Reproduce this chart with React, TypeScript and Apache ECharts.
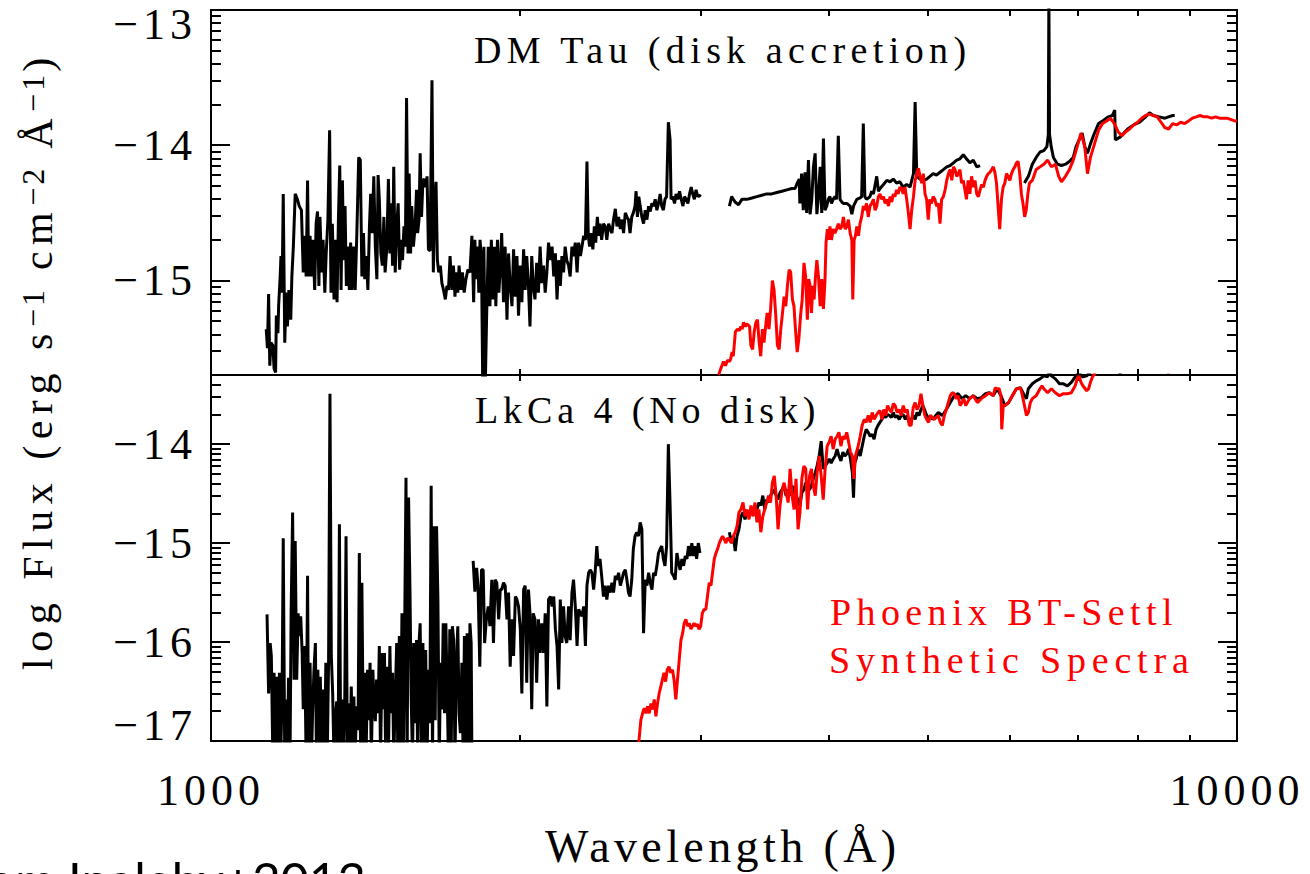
import React, { useEffect, useRef } from 'react';
import * as echarts from 'echarts';

type Pt = [number, number];

// ---------- DM Tau (accreting disk) : observed spectrum, log flux vs wavelength (Å) ----------
const dmTauFuv: Pt[] = [
  [1132,-15.36],[1135,-15.50],[1138,-15.10],[1141,-15.63],[1144,-15.46],[1149,-15.48],[1152,-15.65],[1156,-15.68],[1158,-15.26],[1162,-15.39],
  [1164,-15.18],[1168,-14.97],[1170,-14.82],[1173,-15.09],[1176,-14.36],[1180,-15.46],[1184,-15.09],[1187,-15.34],[1191,-15.07],[1196,-15.29],
  [1199,-14.97],[1203,-14.75],[1208,-14.36],[1214,-14.40],[1219,-14.45],[1225,-14.48],[1230,-14.94],[1234,-14.67],[1238,-14.97],[1242,-14.26],
  [1245,-14.97],[1249,-14.67],[1253,-14.97],[1257,-14.70],[1262,-15.07],[1266,-14.58],[1270,-14.49],[1274,-15.04],[1277,-14.53],[1282,-14.94],
  [1286,-14.70],[1291,-15.09],[1295,-14.80],[1300,-14.55],[1305,-13.89],[1309,-15.09],[1313,-14.58],[1318,-15.14],[1322,-14.70],[1327,-15.16],
  [1331,-14.55],[1335,-14.15],[1339,-15.07],[1343,-14.26],[1347,-14.85],[1351,-14.45],[1355,-15.04],[1359,-14.75],[1364,-15.07],[1368,-14.72],
  [1372,-15.07],[1377,-14.75],[1382,-15.07],[1387,-14.67],[1393,-14.09],[1398,-14.11],[1403,-14.97],[1408,-14.65],[1412,-14.99],[1417,-14.82],
  [1422,-15.07],[1427,-14.60],[1431,-14.36],[1436,-14.65],[1441,-14.23],[1446,-14.75],[1451,-14.99],[1455,-14.22],[1459,-14.40],[1464,-14.80],
  [1469,-14.89],[1474,-14.53],[1478,-14.94],[1484,-14.75],[1489,-14.25],[1494,-14.80],[1498,-14.43],[1503,-14.89],[1507,-14.16],[1512,-14.94],
  [1517,-14.60],[1522,-14.43],[1527,-14.92],[1533,-14.70],[1537,-14.85],[1542,-14.60],[1547,-14.75],[1551,-13.65],[1556,-14.80],[1560,-14.21],
  [1565,-14.80],[1569,-14.45],[1575,-14.75],[1581,-14.60],[1586,-14.33],[1590,-14.65],[1595,-14.55],[1599,-14.06],[1604,-14.53],[1609,-14.26],
  [1614,-14.25],[1619,-14.31],[1624,-14.23],[1629,-14.77],[1635,-14.78],[1642,-13.52],[1647,-14.94],[1652,-14.43],[1657,-14.27],[1662,-14.85],
  [1667,-14.94],[1673,-14.89],[1679,-15.02],[1685,-15.07],[1692,-15.14],[1698,-15.04],[1704,-15.07],[1710,-14.82],[1717,-15.07],[1723,-14.89],
  [1729,-15.12],[1734,-14.94],[1740,-15.09],[1745,-14.89],[1752,-15.07],[1758,-14.94],[1765,-15.09],[1772,-14.99],[1780,-14.92],[1788,-14.94],
  [1796,-14.67],[1803,-15.16],[1808,-14.70],[1813,-14.99],[1819,-14.75],[1824,-15.09],[1829,-14.70],[1835,-14.85],[1840,-15.75],[1845,-14.75],
  [1851,-15.75],[1856,-15.29],[1863,-14.75],[1870,-15.19],[1876,-14.70],[1883,-15.14],[1889,-14.75],[1895,-15.19],[1902,-14.70],[1908,-15.09],
  [1913,-14.94],[1920,-14.65],[1928,-15.16],[1935,-14.75],[1943,-15.29],[1950,-14.80],[1957,-15.04],[1965,-15.19],[1972,-14.77],[1980,-15.12],
  [1987,-14.82],[1994,-15.26],[2002,-14.89],[2009,-15.16],[2017,-14.77],[2024,-15.07],[2031,-14.82],[2039,-15.04],[2046,-15.34],[2054,-14.82],
  [2061,-15.04],[2069,-15.14],[2077,-14.87],[2085,-15.09],[2093,-14.75],[2101,-15.02],[2109,-14.89],[2117,-15.09],[2125,-14.94],[2133,-14.72],
  [2142,-14.85],[2150,-14.75],[2158,-14.97],[2166,-14.80],[2174,-15.14],[2182,-14.85],[2190,-15.04],[2198,-14.82],[2206,-14.94],[2214,-14.75],
  [2222,-14.85],[2231,-14.89],[2239,-14.97],[2248,-14.75],[2256,-14.82],[2265,-14.72],[2274,-14.94],[2282,-14.72],[2291,-14.82],[2299,-14.75],
  [2308,-14.67],[2317,-14.70],[2325,-14.12],[2332,-14.67],[2339,-14.75],[2346,-14.65],[2356,-14.77],[2364,-14.60],[2371,-14.72],[2380,-14.53],
  [2387,-14.67],[2394,-14.58],[2403,-14.70],[2413,-14.58],[2422,-14.60],[2431,-14.70],[2441,-14.58],[2450,-14.62],[2459,-14.65],[2468,-14.55],
  [2478,-14.47],[2487,-14.60],[2496,-14.53],[2506,-14.62],[2515,-14.55],[2524,-14.65],[2534,-14.50],[2543,-14.53],[2552,-14.55],[2561,-14.65],
  [2571,-14.53],[2580,-14.50],[2590,-14.45],[2596,-14.34],[2604,-14.53],[2612,-14.38],[2620,-14.45],[2630,-14.53],[2640,-14.58],[2650,-14.48],
  [2660,-14.55],[2670,-14.45],[2680,-14.49],[2690,-14.43],[2700,-14.45],[2710,-14.40],[2720,-14.48],[2730,-14.43],[2740,-14.36],[2750,-14.45],
  [2760,-14.48],[2770,-14.40],[2780,-14.38],[2791,-13.83],[2802,-13.96],[2808,-14.40],[2819,-14.38],[2830,-14.43],[2840,-14.36],[2851,-14.40],
  [2862,-14.34],[2873,-14.40],[2884,-14.45],[2894,-14.38],[2905,-14.40],[2916,-14.43],[2927,-14.36],[2938,-14.31],[2948,-14.36],[2959,-14.40],
  [2970,-14.33],[2981,-14.38],[2991,-14.37],[3002,-14.38],
];

const dmTauBlue: Pt[] = [
  [3201,-14.45],[3217,-14.38],[3242,-14.42],[3267,-14.44],[3292,-14.40],[3329,-14.40],[3367,-14.39],[3404,-14.38],[3442,-14.37],[3479,-14.36],
  [3520,-14.36],[3560,-14.35],[3601,-14.34],[3641,-14.33],[3682,-14.32],[3709,-14.32],[3727,-14.28],[3744,-14.25],[3749,-14.43],[3764,-14.21],
  [3778,-14.48],[3793,-14.20],[3807,-14.50],[3822,-14.11],[3836,-14.51],[3851,-14.40],[3865,-14.16],[3880,-14.06],[3895,-14.51],[3909,-14.38],
  [3924,-14.16],[3938,-14.50],[3953,-13.95],[3967,-14.48],[3982,-14.45],[3996,-14.40],[4011,-14.38],[4025,-14.43],[4040,-14.40],[4056,-14.38],
  [4071,-14.40],[4087,-13.93],[4103,-14.40],[4119,-14.42],[4134,-14.43],[4166,-14.43],[4197,-14.45],[4213,-14.51],[4229,-14.45],[4260,-14.40],
  [4291,-14.39],[4307,-14.38],[4323,-13.84],[4338,-14.38],[4354,-14.40],[4371,-14.39],[4388,-14.38],[4405,-14.34],[4422,-14.36],[4455,-14.23],
  [4472,-14.34],[4489,-14.32],[4523,-14.29],[4557,-14.26],[4591,-14.27],[4624,-14.25],[4658,-14.28],[4692,-14.27],[4728,-14.31],[4765,-14.29],
  [4801,-14.31],[4838,-14.21],[4856,-13.68],[4874,-14.23],[4910,-14.25],[4947,-14.26],[4983,-14.25],[5020,-14.23],[5056,-14.21],[5095,-14.22],
  [5135,-14.20],[5174,-14.18],[5213,-14.16],[5253,-14.15],[5292,-14.13],[5331,-14.11],[5370,-14.10],[5410,-14.07],[5449,-14.10],[5491,-14.13],
  [5533,-14.11],[5576,-14.16],[5618,-14.15],
];

const dmTauRed: Pt[] = [
  [6206,-14.28],[6261,-14.23],[6317,-14.14],[6372,-14.09],[6427,-14.05],[6482,-14.04],[6527,-14.01],[6548,-13.92],[6556,-12.90],[6566,-13.92],
  [6590,-14.01],[6623,-14.09],[6684,-14.14],[6744,-14.15],[6805,-14.14],[6865,-14.12],[6925,-14.09],[6968,-14.01],[7016,-13.96],[7064,-13.91],
  [7106,-14.01],[7149,-14.06],[7197,-13.99],[7263,-13.91],[7329,-13.84],[7395,-13.82],[7494,-13.79],[7560,-13.78],[7600,-13.74],[7610,-13.96],
  [7692,-13.94],[7758,-13.91],[7824,-13.88],[7929,-13.85],[8037,-13.83],[8145,-13.79],[8217,-13.76],[8289,-13.78],[8397,-13.79],[8505,-13.80],
  [8577,-13.79],[8656,-13.78],[8695,-13.78],
];

// Phoenix BT-Settl synthetic photosphere scaled to DM Tau
const dmTauModel: Pt[] = [
  [3124,-15.70],[3140,-15.65],[3159,-15.60],[3173,-15.63],[3187,-15.59],[3201,-15.60],[3210,-15.58],[3220,-15.53],[3229,-15.56],[3244,-15.38],
  [3259,-15.36],[3274,-15.37],[3284,-15.34],[3294,-15.36],[3304,-15.31],[3317,-15.34],[3329,-15.32],[3349,-15.34],[3359,-15.48],[3372,-15.51],
  [3384,-15.38],[3397,-15.31],[3409,-15.29],[3422,-15.46],[3434,-15.56],[3447,-15.36],[3459,-15.46],[3472,-15.34],[3484,-15.24],[3498,-15.36],
  [3511,-15.21],[3525,-15.00],[3538,-15.07],[3552,-15.26],[3565,-15.48],[3579,-15.51],[3592,-15.36],[3606,-15.24],[3619,-15.12],[3633,-15.19],
  [3646,-15.04],[3660,-14.92],[3673,-14.94],[3687,-15.14],[3700,-15.19],[3714,-15.38],[3727,-15.53],[3741,-15.43],[3755,-15.26],[3769,-15.14],
  [3784,-14.87],[3798,-14.97],[3813,-15.29],[3825,-14.99],[3836,-15.04],[3848,-15.24],[3860,-15.04],[3871,-15.14],[3883,-14.97],[3895,-14.85],
  [3909,-14.97],[3924,-15.19],[3938,-14.99],[3953,-15.21],[3967,-14.99],[3976,-14.72],[3988,-14.62],[3999,-14.70],[4011,-14.60],[4025,-14.70],
  [4040,-14.62],[4056,-14.65],[4071,-14.62],[4087,-14.58],[4103,-14.62],[4119,-14.60],[4134,-14.53],[4150,-14.62],[4166,-14.60],[4181,-14.55],
  [4197,-14.65],[4213,-14.70],[4222,-15.14],[4235,-14.70],[4247,-14.67],[4260,-14.60],[4276,-14.67],[4291,-14.58],[4307,-14.53],[4323,-14.45],
  [4338,-14.48],[4354,-14.43],[4371,-14.53],[4388,-14.45],[4405,-14.43],[4422,-14.40],[4439,-14.48],[4455,-14.45],[4472,-14.38],[4489,-14.36],
  [4506,-14.40],[4523,-14.38],[4540,-14.43],[4557,-14.40],[4574,-14.45],[4591,-14.38],[4608,-14.42],[4624,-14.36],[4641,-14.38],[4658,-14.33],
  [4675,-14.36],[4692,-14.31],[4710,-14.32],[4728,-14.36],[4747,-14.31],[4765,-14.40],[4783,-14.50],[4801,-14.62],[4819,-14.48],[4838,-14.38],
  [4856,-14.26],[4874,-14.22],[4892,-14.17],[4910,-14.23],[4929,-14.28],[4947,-14.21],[4965,-14.36],[4983,-14.40],[5001,-14.55],[5020,-14.40],
  [5038,-14.43],[5056,-14.38],[5076,-14.40],[5095,-14.45],[5115,-14.43],[5135,-14.58],[5154,-14.40],[5174,-14.38],[5194,-14.33],[5213,-14.26],
  [5233,-14.21],[5253,-14.18],[5272,-14.26],[5292,-14.16],[5311,-14.18],[5331,-14.23],[5351,-14.21],[5370,-14.18],[5390,-14.28],[5410,-14.26],
  [5430,-14.33],[5449,-14.40],[5470,-14.26],[5491,-14.36],[5512,-14.23],[5533,-14.31],[5555,-14.26],[5576,-14.36],[5597,-14.38],[5618,-14.33],
  [5639,-14.29],[5660,-14.31],[5681,-14.26],[5702,-14.23],[5723,-14.21],[5744,-14.20],[5766,-14.18],[5787,-14.16],[5808,-14.20],[5829,-14.28],
  [5850,-14.45],[5871,-14.62],[5894,-14.40],[5916,-14.31],[5939,-14.28],[5961,-14.21],[5984,-14.23],[6006,-14.26],[6029,-14.21],[6051,-14.18],
  [6074,-14.16],[6096,-14.13],[6119,-14.12],[6141,-14.21],[6164,-14.36],[6186,-14.43],[6209,-14.53],[6231,-14.48],[6254,-14.36],[6276,-14.28],
  [6317,-14.26],[6372,-14.18],[6427,-14.16],[6482,-14.14],[6538,-14.11],[6593,-14.16],[6653,-14.14],[6702,-14.23],[6744,-14.27],[6805,-14.23],
  [6865,-14.18],[6925,-14.11],[6986,-14.01],[7046,-13.91],[7106,-14.01],[7149,-14.21],[7197,-14.09],[7263,-13.99],[7329,-13.89],[7395,-13.84],
  [7461,-13.82],[7527,-13.80],[7593,-13.84],[7659,-13.90],[7725,-13.93],[7791,-13.90],[7857,-13.88],[7929,-13.85],[8001,-13.83],[8073,-13.80],
  [8145,-13.78],[8217,-13.77],[8289,-13.78],[8361,-13.79],[8433,-13.83],[8505,-13.87],[8577,-13.88],[8656,-13.84],[8734,-13.85],[8813,-13.83],
  [8891,-13.84],[8970,-13.82],[9048,-13.80],[9127,-13.79],[9205,-13.78],[9284,-13.79],[9362,-13.79],[9446,-13.80],[9530,-13.79],[9614,-13.80],
  [9698,-13.80],[9782,-13.80],[9866,-13.81],[9950,-13.82],[10000,-13.82],
];

// ---------- LkCa 4 (diskless) ----------
const lkca4Fuv: Pt[] = [
  [1134,-15.72],[1138,-16.52],[1142,-16.01],[1145,-16.14],[1149,-17.2],[1152,-16.31],[1156,-17.2],[1159,-16.35],[1162,-17.2],[1166,-16.31],
  [1169,-17.2],[1173,-16.55],[1176,-14.95],[1180,-17.2],[1183,-16.58],[1187,-17.2],[1190,-16.36],[1194,-17.2],[1197,-15.71],[1201,-14.69],
  [1205,-16.38],[1208,-14.98],[1212,-16.38],[1216,-15.71],[1219,-15.94],[1223,-15.74],[1227,-16.11],[1230,-16.68],[1234,-16.04],[1238,-17.2],
  [1242,-15.33],[1245,-17.2],[1249,-16.21],[1253,-17.2],[1256,-16.72],[1260,-16.28],[1264,-16.01],[1267,-17.2],[1271,-16.28],[1275,-17.2],
  [1278,-16.35],[1282,-17.2],[1286,-16.48],[1290,-17.2],[1294,-16.21],[1298,-17.2],[1302,-16.18],[1306,-13.49],[1310,-16.14],[1314,-16.52],
  [1318,-17.2],[1322,-16.75],[1326,-16.60],[1330,-17.2],[1334,-14.81],[1338,-17.2],[1342,-16.58],[1346,-17.2],[1350,-16.65],[1354,-14.93],
  [1358,-17.2],[1362,-16.62],[1366,-17.2],[1370,-16.45],[1374,-17.2],[1378,-16.55],[1382,-17.2],[1386,-16.65],[1391,-16.89],[1395,-15.10],
  [1399,-17.2],[1403,-15.40],[1408,-17.2],[1412,-16.31],[1416,-17.2],[1421,-16.28],[1425,-16.79],[1429,-16.21],[1433,-17.2],[1438,-16.28],
  [1442,-16.65],[1446,-16.80],[1450,-16.38],[1455,-16.72],[1459,-16.04],[1463,-17.2],[1468,-16.11],[1472,-16.68],[1476,-16.11],[1480,-17.2],
  [1485,-16.25],[1489,-17.2],[1494,-16.04],[1498,-16.72],[1503,-16.31],[1507,-17.2],[1512,-16.58],[1517,-16.01],[1521,-17.2],[1526,-15.94],
  [1530,-17.2],[1535,-15.71],[1540,-17.2],[1544,-16.01],[1549,-14.34],[1553,-17.2],[1558,-14.54],[1563,-15.50],[1567,-16.55],[1572,-17.2],
  [1576,-16.01],[1581,-16.82],[1586,-15.98],[1590,-17.2],[1595,-16.01],[1599,-15.81],[1604,-17.2],[1609,-16.01],[1614,-17.2],[1619,-16.08],
  [1624,-17.2],[1629,-16.28],[1634,-16.82],[1639,-14.42],[1644,-17.2],[1649,-14.83],[1654,-16.79],[1659,-14.83],[1664,-15.57],[1669,-17.2],
  [1674,-16.21],[1679,-16.68],[1684,-15.81],[1689,-16.72],[1694,-15.81],[1699,-16.52],[1704,-17.2],[1709,-15.87],[1714,-17.2],[1719,-15.84],
  [1724,-15.98],[1729,-17.2],[1734,-16.25],[1740,-15.84],[1745,-16.72],[1750,-16.92],[1756,-16.21],[1761,-17.2],[1766,-15.94],[1772,-17.2],
  [1777,-15.91],[1783,-17.2],[1788,-15.81],[1793,-16.01],[1796,-17.2],
];

const lkca4Nuv: Pt[] = [
  [1801,-15.18],[1808,-15.49],[1815,-15.25],[1821,-15.44],[1828,-16.25],[1835,-15.27],[1842,-15.27],[1848,-16.01],[1855,-15.77],[1863,-15.64],
  [1870,-15.84],[1878,-15.37],[1885,-16.01],[1892,-15.37],[1899,-15.40],[1907,-15.77],[1914,-15.47],[1920,-15.47],[1928,-15.40],[1935,-15.43],
  [1943,-15.77],[1950,-15.50],[1957,-16.25],[1965,-15.77],[1972,-16.14],[1980,-15.54],[1987,-15.57],[1994,-15.64],[2002,-15.87],[2009,-16.52],
  [2017,-15.47],[2024,-15.43],[2031,-16.41],[2039,-15.47],[2046,-15.71],[2054,-16.68],[2061,-15.71],[2069,-15.77],[2077,-16.41],[2085,-15.77],
  [2093,-16.11],[2101,-15.81],[2109,-16.11],[2117,-15.71],[2125,-16.65],[2133,-15.57],[2142,-15.54],[2150,-15.64],[2158,-15.54],[2166,-15.87],
  [2174,-16.04],[2182,-16.48],[2190,-15.57],[2198,-16.01],[2206,-15.64],[2214,-15.94],[2222,-16.01],[2231,-15.64],[2239,-15.98],[2248,-15.50],
  [2256,-15.37],[2265,-15.64],[2274,-16.04],[2282,-15.67],[2291,-15.71],[2299,-15.74],[2308,-15.64],[2317,-16.04],[2325,-15.43],[2334,-15.30],
  [2342,-15.27],[2351,-15.30],[2360,-15.47],[2368,-15.30],[2377,-15.03],[2385,-15.23],[2394,-15.16],[2403,-15.33],[2413,-15.54],[2422,-15.43],
  [2431,-15.57],[2441,-15.43],[2450,-15.50],[2459,-15.40],[2468,-15.50],[2478,-15.33],[2487,-15.37],[2496,-15.30],[2506,-15.43],[2515,-15.37],
  [2524,-15.30],[2534,-15.27],[2543,-15.37],[2552,-15.50],[2561,-15.54],[2571,-15.37],[2580,-15.06],[2590,-14.93],[2600,-14.89],[2610,-14.93],
  [2620,-14.79],[2630,-14.86],[2640,-15.91],[2650,-15.37],[2660,-15.43],[2670,-15.30],[2680,-15.40],[2690,-15.47],[2700,-15.30],[2710,-15.33],
  [2720,-15.23],[2730,-15.10],[2740,-15.06],[2750,-15.03],[2760,-15.16],[2770,-15.23],[2780,-15.03],[2791,-14.00],[2802,-14.62],[2812,-15.30],
  [2823,-15.33],[2834,-15.37],[2845,-15.10],[2856,-15.20],[2866,-15.27],[2877,-15.16],[2888,-15.23],[2899,-15.13],[2910,-15.16],[2920,-15.03],
  [2931,-15.13],[2942,-15.00],[2953,-15.13],[2964,-15.03],[2974,-15.16],[2985,-15.00],[2996,-15.10],
];

const lkca4Opt: Pt[] = [
  [3201,-14.89],[3215,-15.00],[3229,-14.93],[3243,-15.08],[3256,-14.93],[3270,-14.86],[3285,-14.73],[3300,-14.69],[3315,-14.76],[3330,-14.69],
  [3345,-14.73],[3360,-14.66],[3375,-14.69],[3390,-14.62],[3405,-14.66],[3420,-14.59],[3435,-14.62],[3450,-14.52],[3465,-14.66],[3480,-14.56],
  [3495,-14.59],[3510,-14.52],[3525,-14.49],[3540,-14.46],[3555,-14.52],[3570,-14.56],[3586,-14.49],[3603,-14.46],[3619,-14.42],[3635,-14.52],
  [3652,-14.46],[3668,-14.52],[3684,-14.42],[3701,-14.49],[3717,-14.52],[3734,-14.56],[3750,-14.62],[3766,-14.49],[3783,-14.46],[3799,-14.39],
  [3815,-14.42],[3832,-14.46],[3848,-14.42],[3864,-14.35],[3881,-14.29],[3897,-14.22],[3915,-14.12],[3933,-13.97],[3951,-14.25],[3968,-14.22],
  [3986,-14.19],[4004,-14.15],[4022,-14.19],[4040,-14.15],[4058,-14.12],[4076,-14.05],[4093,-14.12],[4111,-14.17],[4129,-14.08],[4147,-14.12],
  [4165,-14.10],[4183,-14.05],[4200,-14.15],[4218,-14.29],[4229,-14.54],[4240,-14.19],[4254,-14.15],[4273,-14.05],[4293,-14.12],[4312,-14.02],
  [4332,-13.92],[4351,-13.85],[4371,-13.88],[4390,-13.92],[4410,-13.90],[4429,-13.95],[4449,-13.85],[4468,-13.81],[4487,-13.78],[4507,-13.75],
  [4526,-13.71],[4546,-13.73],[4565,-13.70],[4585,-13.71],[4604,-13.73],[4624,-13.68],[4643,-13.73],[4664,-13.71],[4686,-13.75],[4707,-13.71],
  [4728,-13.70],[4750,-13.75],[4771,-13.71],[4792,-13.78],[4813,-13.75],[4835,-13.71],[4856,-13.75],[4877,-13.68],[4899,-13.71],[4920,-13.65],
  [4941,-13.61],[4963,-13.66],[4984,-13.71],[5005,-13.75],[5026,-13.71],[5048,-13.75],[5069,-13.73],[5115,-13.68],[5162,-13.71],[5208,-13.65],
  [5255,-13.58],[5301,-13.51],[5348,-13.49],[5394,-13.54],[5440,-13.51],[5487,-13.54],[5533,-13.51],[5584,-13.54],[5634,-13.53],[5685,-13.49],
  [5736,-13.48],[5786,-13.51],[5837,-13.44],[5888,-13.51],[5939,-13.61],[5989,-13.58],[6040,-13.51],[6095,-13.44],[6151,-13.43],[6206,-13.51],
  [6234,-13.54],[6261,-13.44],[6317,-13.39],[6372,-13.36],[6427,-13.34],[6482,-13.31],[6538,-13.32],[6566,-13.26],[6593,-13.31],[6653,-13.34],
  [6714,-13.39],[6774,-13.39],[6835,-13.41],[6895,-13.375],[6955,-13.32],[6986,-13.29],[7016,-13.26],[7046,-13.31],[7076,-13.32],[7137,-13.31],
  [7197,-13.27],[7263,-13.24],[7461,-13.17],[7659,-13.22],[7692,-13.29],[7725,-13.21],[8001,-13.14],[8397,-13.14],
];

// Phoenix BT-Settl synthetic photosphere scaled to LkCa 4
const lkca4Model: Pt[] = [
  [2612,-17.01],[2624,-16.79],[2634,-16.72],[2644,-16.67],[2654,-16.72],[2664,-16.65],[2674,-16.72],[2684,-16.62],[2694,-16.68],[2704,-16.58],
  [2714,-16.75],[2724,-16.62],[2734,-16.52],[2744,-16.45],[2754,-16.38],[2764,-16.31],[2774,-16.40],[2784,-16.28],[2795,-16.25],[2806,-16.31],
  [2817,-16.28],[2827,-16.38],[2838,-16.58],[2849,-16.38],[2860,-16.18],[2871,-15.98],[2882,-15.91],[2892,-15.81],[2903,-15.77],[2914,-15.84],
  [2925,-15.81],[2936,-15.87],[2946,-15.84],[2957,-15.81],[2968,-15.84],[2979,-15.82],[2990,-15.87],[3001,-15.84],[3012,-15.71],[3024,-15.67],
  [3036,-15.67],[3047,-15.54],[3059,-15.40],[3071,-15.43],[3082,-15.30],[3094,-15.16],[3106,-15.10],[3117,-15.06],[3129,-15.00],[3141,-14.96],
  [3152,-14.93],[3164,-14.96],[3176,-15.00],[3187,-14.95],[3199,-14.96],[3215,-15.00],[3229,-14.93],[3243,-14.89],[3256,-14.83],[3270,-14.69],
  [3285,-14.66],[3300,-14.59],[3315,-14.73],[3330,-14.66],[3345,-14.76],[3360,-14.62],[3375,-14.73],[3390,-14.59],[3405,-14.79],[3420,-14.66],
  [3435,-14.89],[3450,-14.73],[3465,-14.66],[3480,-14.59],[3495,-14.52],[3510,-14.59],[3525,-14.39],[3540,-14.32],[3555,-14.52],[3570,-14.86],
  [3586,-14.62],[3603,-14.46],[3619,-14.39],[3635,-14.49],[3652,-14.59],[3668,-14.25],[3684,-14.52],[3701,-14.66],[3717,-14.35],[3734,-14.86],
  [3750,-14.69],[3766,-14.35],[3783,-14.22],[3799,-14.25],[3815,-14.66],[3832,-14.32],[3848,-14.25],[3864,-14.42],[3881,-14.52],[3897,-14.29],
  [3915,-14.12],[3933,-14.32],[3951,-14.56],[3968,-14.25],[3986,-14.02],[4004,-13.98],[4022,-13.92],[4040,-14.05],[4058,-13.95],[4076,-13.92],
  [4093,-13.88],[4111,-14.02],[4129,-13.92],[4147,-13.95],[4165,-13.88],[4183,-13.98],[4200,-14.08],[4218,-14.12],[4232,-14.35],[4247,-14.12],
  [4273,-14.02],[4293,-13.92],[4312,-13.81],[4332,-13.75],[4351,-13.78],[4371,-13.71],[4390,-13.78],[4410,-13.68],[4429,-13.75],[4449,-13.71],
  [4468,-13.68],[4487,-13.66],[4507,-13.75],[4526,-13.65],[4546,-13.71],[4565,-13.61],[4585,-13.65],[4604,-13.68],[4624,-13.59],[4643,-13.61],
  [4664,-13.68],[4686,-13.65],[4707,-13.71],[4728,-13.61],[4750,-13.68],[4771,-13.65],[4792,-13.81],[4813,-13.81],[4835,-13.63],[4856,-13.58],
  [4877,-13.65],[4899,-13.61],[4920,-13.49],[4941,-13.61],[4963,-13.71],[4984,-13.75],[5005,-13.78],[5026,-13.71],[5069,-13.75],[5115,-13.71],
  [5139,-13.78],[5162,-13.81],[5185,-13.71],[5208,-13.65],[5231,-13.58],[5255,-13.51],[5278,-13.48],[5301,-13.49],[5324,-13.54],[5348,-13.51],
  [5371,-13.61],[5394,-13.58],[5417,-13.54],[5440,-13.61],[5487,-13.54],[5533,-13.51],[5584,-13.58],[5634,-13.54],[5685,-13.51],[5736,-13.48],
  [5786,-13.51],[5812,-13.43],[5837,-13.44],[5863,-13.44],[5888,-13.51],[5898,-13.85],[5918,-13.61],[5939,-13.61],[5989,-13.58],[6040,-13.51],
  [6095,-13.44],[6123,-13.44],[6151,-13.43],[6178,-13.51],[6206,-13.61],[6234,-13.71],[6261,-13.68],[6289,-13.58],[6317,-13.54],[6372,-13.51],
  [6427,-13.44],[6455,-13.41],[6482,-13.44],[6538,-13.48],[6593,-13.44],[6653,-13.48],[6714,-13.51],[6774,-13.49],[6835,-13.49],[6895,-13.48],
  [6955,-13.41],[6986,-13.34],[7016,-13.31],[7046,-13.375],[7076,-13.41],[7137,-13.46],[7167,-13.44],[7197,-13.375],[7230,-13.32],[7263,-13.29],
  [7296,-13.24],[7527,-13.10],[7857,-13.07],[8217,-13.10],[8505,-13.21],[8577,-13.28],[8656,-13.17],[9048,-13.12],[10000,-13.10],
];

// ---------- axes ----------
const xMinorTicks = [2000, 3000, 4000, 5000, 6000, 7000, 8000, 9000];
const xTickLabels = [1000, 10000];
const topMajorTicks = [-15, -14, -13];
const bottomMajorTicks = [-17, -16, -15, -14];
const topRange: [number, number] = [Math.log10(2e-16), -13];
const bottomRange: [number, number] = [-17, Math.log10(5e-14)];

const SERIF = "'Liberation Serif', 'DejaVu Serif', serif";
const BLACK = '#000000';
const RED = '#ff0000';

// Extra tracking for the wide-set serif labels (px)
const TRACKING: Record<string, number> = {
  'DM Tau (disk accretion)': 5.4,
  'LkCa 4 (No disk)': 4.9,
  'Phoenix BT-Settl': 5.4,
  'Synthetic Spectra': 5.8,
  'Wavelength (Å)': 4.4,
  'log Flux (erg s': 6.5,
  'cm': 6.5,
  'Å': 6.5,
  ')': 6.5,
  '\u22121': 3,
  '\u22122': 3,
};

// log-decade minor tick positions (2..9 x 10^n) expressed in log flux
function minorTicks([lo, hi]: [number, number]): number[] {
  const out: number[] = [];
  for (let e = Math.floor(lo); e < Math.ceil(hi); e++) {
    for (let m = 2; m <= 9; m++) {
      const v = e + Math.log10(m);
      if (v > lo + 1e-6 && v < hi - 1e-6) out.push(v);
    }
  }
  return out;
}

const tickLine = { color: BLACK, width: 2 };

function xAxes(gridIndex: number, withLabels: boolean) {
  const base = {
    type: 'log',
    logBase: 10,
    gridIndex,
    min: 1000,
    max: 10000,
    axisLine: { show: false, onZero: false },
    splitLine: { show: false },
    minorTick: { show: false },
    axisTick: { show: true, inside: true, length: 6, customValues: xMinorTicks, lineStyle: tickLine },
  };
  return [
    {
      ...base,
      position: 'bottom',
      axisLabel: withLabels
        ? {
            show: true,
            customValues: xTickLabels,
            showMinLabel: true,
            showMaxLabel: true,
            margin: 27,
            fontFamily: SERIF,
            fontSize: 44,
            color: BLACK,
            formatter: (v: number) => String(Math.round(v)),
          }
        : { show: false },
    },
    { ...base, position: 'top', axisLabel: { show: false } },
  ];
}

function yAxes(gridIndex: number, range: [number, number], majors: number[]) {
  const minors = minorTicks(range);
  const base = {
    type: 'value',
    gridIndex,
    min: range[0],
    max: range[1],
    axisLine: { show: false, onZero: false },
    splitLine: { show: false },
  };
  const labelFont = { fontFamily: SERIF, fontSize: 44, color: BLACK, lineHeight: 44 };
  return [
    {
      ...base,
      position: 'left',
      axisTick: { show: true, inside: true, length: 19, customValues: majors, lineStyle: tickLine },
      axisLabel: {
        show: true,
        customValues: majors,
        showMinLabel: true,
        showMaxLabel: true,
        margin: 14,
        ...labelFont,
        formatter: (v: number) => {
          const s = '\u2212' + Math.round(Math.abs(v));
          if (Math.abs(v - range[1]) < 1e-6) return `{hi|${s}}`;
          if (Math.abs(v - range[0]) < 1e-6) return `{lo|${s}}`;
          return `{n|${s}}`;
        },
        rich: {
          n: { ...labelFont },
          hi: { ...labelFont, padding: [28, 0, 0, 0] },
          lo: { ...labelFont, padding: [0, 0, 32, 0] },
        },
      },
    },
    {
      ...base,
      position: 'left',
      axisTick: { show: true, inside: true, length: 10, customValues: minors, lineStyle: tickLine },
      axisLabel: { show: false },
    },
    {
      ...base,
      position: 'right',
      axisTick: { show: true, inside: true, length: 19, customValues: majors, lineStyle: tickLine },
      axisLabel: { show: false },
    },
    {
      ...base,
      position: 'right',
      axisTick: { show: true, inside: true, length: 10, customValues: minors, lineStyle: tickLine },
      axisLabel: { show: false },
    },
  ];
}

function spectrum(name: string, data: Pt[], color: string, xAxisIndex: number, yAxisIndex: number, z: number) {
  return {
    type: 'line',
    name,
    data,
    xAxisIndex,
    yAxisIndex,
    showSymbol: false,
    symbol: 'none',
    clip: true,
    silent: true,
    z,
    emphasis: { disabled: true },
    lineStyle: { color, width: 3, join: 'bevel' },
    itemStyle: { color },
  };
}

function textEl(text: string, x: number, y: number, size: number, fill: string, family = SERIF) {
  return {
    type: 'text',
    x,
    y,
    z: 10,
    silent: true,
    style: {
      text,
      fill,
      font: `${size}px ${family}`,
      fontSize: size,
      fontFamily: family,
      align: 'left',
      verticalAlign: 'middle',
      textAlign: 'left',
      textVerticalAlign: 'middle',
    },
  };
}

function buildOption() {
  const mainTok = { fontSize: 42, fontFamily: SERIF, lineHeight: 42, fill: BLACK };
  const supTok = { fontSize: 32, fontFamily: SERIF, lineHeight: 24, verticalAlign: 'top', fill: BLACK, padding: [0, 6, 0, 0] };
  return {
    animation: false,
    backgroundColor: '#ffffff',
    grid: [
      { left: 211, top: 10, width: 1026, height: 365, show: true, borderColor: BLACK, borderWidth: 2, backgroundColor: 'transparent', containLabel: false, outerBoundsMode: 'none' },
      { left: 211, top: 375, width: 1026, height: 366, show: true, borderColor: BLACK, borderWidth: 2, backgroundColor: 'transparent', containLabel: false, outerBoundsMode: 'none' },
    ],
    xAxis: [...xAxes(0, false), ...xAxes(1, true)],
    yAxis: [...yAxes(0, topRange, topMajorTicks), ...yAxes(1, bottomRange, bottomMajorTicks)],
    series: [
      spectrum('DM Tau FUV', dmTauFuv, BLACK, 0, 0, 2),
      spectrum('DM Tau blue', dmTauBlue, BLACK, 0, 0, 2),
      spectrum('DM Tau red', dmTauRed, BLACK, 0, 0, 2),
      spectrum('DM Tau model', dmTauModel, RED, 0, 0, 3),
      spectrum('LkCa 4 FUV', lkca4Fuv, BLACK, 2, 4, 2),
      spectrum('LkCa 4 NUV', lkca4Nuv, BLACK, 2, 4, 2),
      spectrum('LkCa 4 optical', lkca4Opt, BLACK, 2, 4, 2),
      spectrum('LkCa 4 model', lkca4Model, RED, 2, 4, 3),
    ],
    graphic: [
      textEl('DM Tau (disk accretion)', 474, 50, 38, BLACK),
      textEl('LkCa 4 (No disk)', 475, 410, 38, BLACK),
      textEl('Phoenix BT-Settl', 830, 612, 38, RED),
      textEl('Synthetic Spectra', 829, 660, 38, RED),
      textEl('Wavelength (Å)', 545, 846, 46, BLACK),
      textEl('From Ingleby+2013', -55, 879, 49, BLACK, "Lato, 'Open Sans', sans-serif"),
      {
        type: 'text',
        x: 38,
        y: 670,
        rotation: Math.PI / 2,
        z: 10,
        silent: true,
        style: {
          text: '{a|log Flux (erg s}{s|\u22121}{b|cm}{s|\u22122}{c|Å}{s|\u22121}{d|)}',
          fill: BLACK,
          font: `42px ${SERIF}`,
          align: 'left',
          verticalAlign: 'middle',
          textAlign: 'left',
          textVerticalAlign: 'middle',
          rich: {
            a: { ...mainTok, padding: [0, 97.5, 0, 0] },
            s: supTok,
            b: { ...mainTok, padding: [0, 13, 0, 17] },
            c: { ...mainTok, padding: [0, 6.5, 0, 17] },
            d: { ...mainTok, padding: [0, 6.5, 0, 0] },
          },
        },
      },
    ],
  };
}

function applyTracking(root: HTMLElement) {
  root.querySelectorAll('text').forEach((node) => {
    const t = node.textContent ?? '';
    let ls: number | undefined = TRACKING[t];
    if (ls === undefined && /^[\u2212-]?\d+$/.test(t)) ls = 5;
    if (ls !== undefined) (node as SVGElement).style.letterSpacing = `${ls}px`;
  });
}

export default function App() {
  const ref = useRef<HTMLDivElement>(null);

  useEffect(() => {
    const el = ref.current;
    if (!el) return;
    const chart = echarts.init(el, undefined, { renderer: 'svg' });
    chart.setOption(buildOption() as any);
    const track = () => applyTracking(el);
    track();
    chart.on('finished', track);
    const raf = requestAnimationFrame(track);
    return () => {
      cancelAnimationFrame(raf);
      chart.dispose();
    };
  }, []);

  return (
    <div
      ref={ref}
      style={{ position: 'fixed', left: 0, top: 0, width: 1310, height: 874, background: '#ffffff' }}
    />
  );
}
